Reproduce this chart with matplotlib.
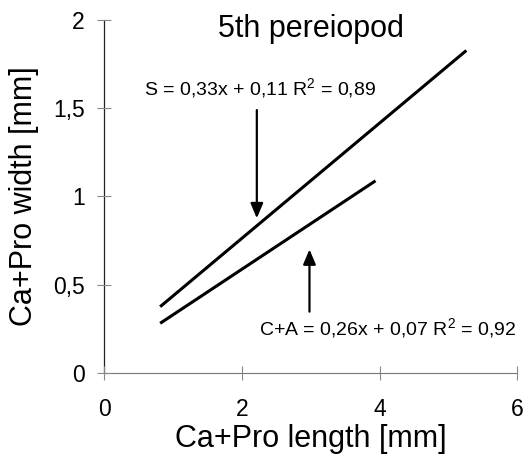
import matplotlib
matplotlib.use("Agg")
import matplotlib.pyplot as plt

plt.rcParams['font.family'] = ['Liberation Sans', 'DejaVu Sans']
plt.rcParams['mathtext.fontset'] = 'custom'
plt.rcParams['mathtext.rm'] = 'Liberation Sans'
plt.rcParams['mathtext.default'] = 'regular'

# Data
s_x = [0.81, 5.26]
s_y = [0.376, 1.825]
ca_x = [0.81, 3.94]
ca_y = [0.282, 1.088]

x_ticks = [0, 2, 4, 6]
x_tick_labels = ["0", "2", "4", "6"]
y_ticks = [0, 0.5, 1, 1.5, 2]
y_tick_labels = ["0", "0,5", "1", "1,5", "2"]

title = "5th pereiopod"
s_label = "S = 0,33x + 0,11 R$^{2}$ = 0,89"
ca_label = "C+A = 0,26x + 0,07 R$^{2}$ = 0,92"

fig = plt.figure(figsize=(5.30, 4.54), dpi=100)
ax = fig.add_axes([0.197, 0.178, 0.779, 0.779])

ax.plot(s_x, s_y, color='black', lw=2.2, solid_capstyle='butt')
ax.plot(ca_x, ca_y, color='black', lw=2.2, solid_capstyle='butt')

ax.set_xlim(0, 6)
ax.set_ylim(0, 2)
ax.set_xticks(x_ticks)
ax.set_xticklabels(x_tick_labels)
ax.set_yticks(y_ticks)
ax.set_yticklabels(y_tick_labels)

for side in ['top', 'right']:
    ax.spines[side].set_visible(False)
ax.spines['left'].set_linewidth(0.9)
ax.spines['left'].set_color('#222222')
ax.spines['bottom'].set_linewidth(0.8)
ax.spines['bottom'].set_color('#777777')
ax.spines['left'].set_zorder(0)
ax.spines['bottom'].set_zorder(0)

ax.tick_params(axis='both', direction='inout', length=10, width=0.8,
               color='#888888', labelsize=16.5)
ax.tick_params(axis='x', pad=13)
ax.tick_params(axis='y', pad=9)

ax.set_xlabel("Ca+Pro length [mm]", fontsize=22, labelpad=2)
ax.set_ylabel("Ca+Pro width [mm]", fontsize=22, labelpad=10)

ax.text(3.0, 1.945, title, fontsize=22, ha='center', va='center')
ax.text(0.577, 1.61, s_label, fontsize=14, ha='left', va='center')
ax.text(5.99, 0.256, ca_label, fontsize=14, ha='right', va='center')

arrow_kw = dict(arrowstyle='-|>,head_length=0.9,head_width=0.38', color='black',
                lw=1.6, shrinkA=0, shrinkB=0)
ax.annotate('', xy=(2.215, 0.876), xytext=(2.215, 1.488), arrowprops=arrow_kw)
ax.annotate('', xy=(2.98, 0.70), xytext=(2.98, 0.348), arrowprops=arrow_kw)

fig.savefig("out.png", dpi=100)
